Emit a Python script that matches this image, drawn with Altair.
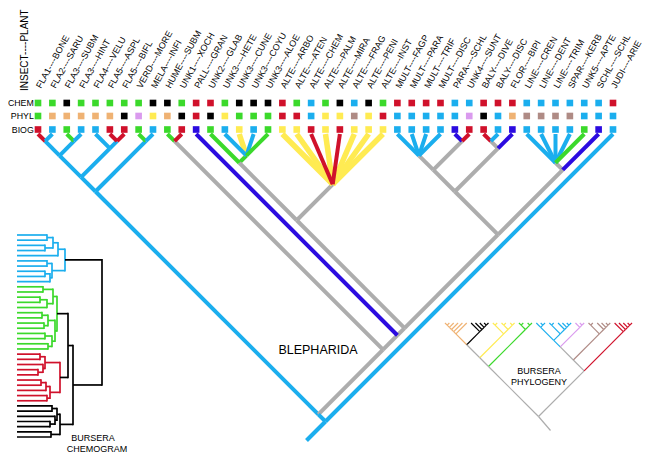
import altair as alt
import pandas as pd

# ---------------- data ----------------
LABELS = ["FLA1----BONE", "FLA2----SARU", "FLA3----SUBM", "FLA3----HINT", "FLA4----VELU",
          "FLA5----ASPL", "FLA5----BIFL", "VERD----MORE", "MELA----INFI", "HUME----SUBM",
          "UNK1----XOCH", "PALL----GRAN", "UNK2----GLAB", "UNK3----HETE", "UNK3----CUNE",
          "UNK3----COYU", "UNK3----ALOE", "ALTE----ARBO", "ALTE----ATEN", "ALTE----CHEM",
          "ALTE----PALM", "ALTE----MIRA", "ALTE----FRAG", "ALTE----PENI", "ALTE----INST",
          "MULT----FAGP", "MULT----PARA", "MULT----TRIF", "MULT----DISC", "PARA----SCHL",
          "UNK4----SUNT", "BALY----DIVE", "BALY----DISC", "FLOR----BIPI", "LINE----CREN",
          "LINE----DENT", "LINE----TRIM", "SPAR----KERB", "UNK5----APTE", "SCHL----SCHL",
          "JUDI----ARIE"]
CHEM = "G G K G G G G G K K G R R G K K K R G B G K B K G R R R R B B R R R B B B B B B R".split()
PHYL = "G O O O O O K P Y O K R K Y G G G R R B Y Y W Y R B B B B B P K B O W W W W B B B".split()
BIOG = "R B G B B R R G B G R N G B Y B G Y Y R Y R Y Y Y B B B B N R R B N B B B B G N B".split()
ROW_NAMES = ["CHEM", "PHYL", "BIOG"]

# Blepharida cladogram (leaf numbers; letter after ")" = colour of the branch below that node)
CLADE_A = "((((1,2)B,(3,4)B)B,(5,(6,7)B)B)B,(8,9)B)"
CLADE_Y = "((13,(14,15,16,17)G)g,(18,19,20,21,22,23,24,25)g)"
CLADE_W = "((((26,27,28,29)g,(30,31)g)g,((32,33)g,34)g)g,((35,36,37,38,39)g,40)g)"
CLADE_Z = "(" + CLADE_Y + "g," + CLADE_W + "g)"
CLADE_V = "(12," + CLADE_Z + "g)"
CLADE_U = "((10,11)g," + CLADE_V + "g)"
BLEPHARIDA_TREE = "((" + CLADE_A + "B," + CLADE_U + "g)B,41)B"

# Bursera chemogram: [node position, children...], 0 = leaf, (colour, subtree)
CH_BLUE = [65, [58, [53, [47, 0, 0], [45, 0, 0]], 0], [52, [47, 0, 0], [50, [45, 0, 0], 0]]]
CH_GREEN = [57, [53, [43, 0, 0], [47, [40, 0, 0], 0]],
            [55, [48, [42, 0, 0], [44, 0, 0]], [52, [45, 0, 0], [48, 0, 0]]]]
CH_RED = [60, [45, [40, 0, 0], [43, 0, [38, 0, 0]]], [50, [46, [41, 0, 0], 0], [47, 0, 0]]]
CH_BLACK = [60, [57, [52, 0, 0], [55, 0, [50, 0, 0]]], [51, 0, 0]]
CHEMOGRAM = [102, "K", ("B", CH_BLUE), [73, [68, ("G", CH_GREEN), ("R", CH_RED)], ("K", CH_BLACK)]]

# Bursera phylogeny: nested lists, 0 = leaf, (colour, clade)
PH_ORANGE = [[[[[0, 0], 0], 0], 0], 0]
PH_BLACK = [0, [0, [0, [0, 0]]]]
PH_YELLOW = [[0, 0], [[0, 0], [0, 0]]]
PH_GREEN = [[0, 0], [0, 0]]
PH_BLUE = [[0, [0, 0]], [[0, 0], [0, [0, [0, 0]]]]]
PH_VIOLET = [0, [0, 0]]
PH_BROWN = [[0, 0], [0, [0, [0, 0]]]]
PH_RED = [0, [0, [0, [0, 0]]]]
PHYLOGENY = [[[[("O", PH_ORANGE), ("K", PH_BLACK)], ("Y", PH_YELLOW)], ("G", PH_GREEN)],
             [[[("B", PH_BLUE), ("P", PH_VIOLET)], ("W", PH_BROWN)], ("R", PH_RED)]]

PALETTE = {"B": "#1BAEEE", "R": "#D0112B", "G": "#3BD92B", "K": "#000000", "N": "#2B0BE0",
           "g": "#ADADAD", "Y": "#FFEB52", "O": "#EFB273", "P": "#DA9AEE", "W": "#AF8B85"}

# ---------------- layout ----------------
X0, DX = 38.0, 14.375
ROW_Y = [103, 116, 129.5]
TIP_Y = 134.0
leaf_x = [X0 + i * DX for i in range(len(LABELS))]


def parse(s):
    pos = [0]

    def node():
        if s[pos[0]] == "(":
            pos[0] += 1
            kids = [node()]
            while s[pos[0]] == ",":
                pos[0] += 1
                kids.append(node())
            pos[0] += 1
            col = "g"
            if pos[0] < len(s) and s[pos[0]].isalpha():
                col = s[pos[0]]
                pos[0] += 1
            return {"kids": kids, "col": col}
        j = pos[0]
        while pos[0] < len(s) and s[pos[0]].isdigit():
            pos[0] += 1
        idx = int(s[j:pos[0]]) - 1
        return {"leaf": idx, "col": BIOG[idx]}
    return node()


def build(n, col):
    if isinstance(n, tuple):
        return build(n[1], n[0])
    if n == 0:
        return {"leaf": 0, "col": col}
    return {"kids": [build(k, col) for k in n], "col": col}


def slant(root, x_of, tip_y, width, segs):
    counter = [0]

    def rec(n):
        if "kids" not in n:
            x = x_of(counter[0])
            counter[0] += 1
            return x, x, x, tip_y
        res = [rec(k) for k in n["kids"]]
        xl, xr = res[0][0], res[-1][1]
        nx, ny = (xl + xr) / 2, tip_y + (xr - xl) / 2
        for k, r in zip(n["kids"], res):
            leaf = "kids" not in k
            segs.append(dict(x=r[2], y=r[3], x2=nx, y2=ny, c=PALETTE[k["col"]],
                             w=width(k), o=(2 if k["col"] != "Y" else 1) if leaf else 0))
        return xl, xr, nx, ny
    return rec(root)


segs = []
main_root = parse(BLEPHARIDA_TREE)
_, _, rx, ry = slant(main_root, lambda i: leaf_x[i], TIP_Y,
                     lambda k: 5.5 if ("kids" not in k and k["col"] == "Y") else 4.0, segs)
segs.append(dict(x=rx, y=ry, x2=rx - 19, y2=ry + 19, c=PALETTE["B"], w=4.0, o=0))
segs.sort(key=lambda d: d["o"])

# phylogeny inset
PH_X0, PH_X1, PH_TIP = 445.0, 632.0, 323.0
ph_tree = build(PHYLOGENY, "g")


def count_leaves(n):
    return 1 if "kids" not in n else sum(count_leaves(k) for k in n["kids"])


nph = count_leaves(ph_tree)
ph_dx = (PH_X1 - PH_X0) / (nph - 1)
_, _, px, py = slant(ph_tree, lambda i: PH_X0 + i * ph_dx, PH_TIP, lambda k: 1.2, segs)
segs.append(dict(x=px, y=py, x2=px + 12, y2=py + 14, c=PALETTE["g"], w=1.2, o=0))

# chemogram inset (rectangular)
CH_X0, CH_Y0, CH_DY = 17.0, 235.0, 5.18
cnt = [0]


def chemo(n, col):
    if isinstance(n, tuple):
        return chemo(n[1], n[0])
    if n == 0:
        y = CH_Y0 + cnt[0] * CH_DY
        cnt[0] += 1
        return CH_X0, y
    x = n[0]
    rest = list(n[1:])
    if rest and isinstance(rest[0], str):
        col = rest[0]
        rest = rest[1:]
    pts = [chemo(k, col) for k in rest]
    ys = [p[1] for p in pts]
    for cx, cy in pts:
        segs.append(dict(x=cx, y=cy, x2=x, y2=cy, c=PALETTE[col], w=1.7, o=0))
    segs.append(dict(x=x, y=min(ys) - 0.85, x2=x, y2=max(ys) + 0.85, c=PALETTE[col], w=1.7, o=0))
    return x, (min(ys) + max(ys)) / 2


chemo(CHEMOGRAM, "K")

seg_df = pd.DataFrame(segs)

sq = []
for r, codes in enumerate([CHEM, PHYL, BIOG]):
    for i, c in enumerate(codes):
        sq.append(dict(x=leaf_x[i], y=ROW_Y[r], c=PALETTE[c]))
sq_df = pd.DataFrame(sq)

lab_df = pd.DataFrame(dict(x=[v + 3 for v in leaf_x], y=[89] * len(LABELS), t=LABELS))
row_df = pd.DataFrame(dict(x=[33.8] * 3, y=ROW_Y, t=ROW_NAMES))

# ---------------- chart ----------------
xs = alt.Scale(domain=[8, 653], nice=False, zero=False)
ys = alt.Scale(domain=[8, 452], nice=False, zero=False, reverse=True)
X = lambda f="x": alt.X(f"{f}:Q", scale=xs, axis=None)
Y = lambda f="y": alt.Y(f"{f}:Q", scale=ys, axis=None)
FONT = "Liberation Sans"

lines = alt.Chart(seg_df).mark_rule(strokeCap="butt").encode(
    x=X(), y=Y(), x2="x2:Q", y2="y2:Q",
    color=alt.Color("c:N", scale=None),
    strokeWidth=alt.StrokeWidth("w:Q", scale=None))

squares = alt.Chart(sq_df).mark_square(size=44, opacity=1, filled=True).encode(
    x=X(), y=Y(), color=alt.Color("c:N", scale=None))

labels = alt.Chart(lab_df).mark_text(angle=299, align="left", baseline="alphabetic",
                                     fontSize=9, font=FONT, color="black").encode(
    x=X(), y=Y(), text="t:N")

rows = alt.Chart(row_df).mark_text(align="right", baseline="middle", fontSize=8.8,
                                   font=FONT, color="black").encode(x=X(), y=Y(), text="t:N")


def note(x, y, t, size, **kw):
    df = pd.DataFrame(dict(x=[x], y=[y], t=[t]))
    return alt.Chart(df).mark_text(fontSize=size, font=FONT, color="black", **kw).encode(
        x=X(), y=Y(), text="t:N")


texts = [
    note(28, 91, "INSECT----PLANT", 10, angle=270, align="left", baseline="alphabetic"),
    note(318, 350, "BLEPHARIDA", 12.5, align="center", baseline="middle"),
    note(539, 371, "BURSERA", 9, align="center", baseline="middle"),
    note(539, 382, "PHYLOGENY", 9, align="center", baseline="middle"),
    note(93, 438, "BURSERA", 9, align="center", baseline="middle"),
    note(97, 448.5, "CHEMOGRAM", 9, align="center", baseline="middle"),
]

chart = alt.layer(lines, squares, labels, rows, *texts).properties(
    width=645, height=444, padding=0,
    autosize=alt.AutoSizeParams(type="none")
).configure_view(stroke=None)

chart.save("out.html", embed_options={"renderer": "svg", "actions": False})
